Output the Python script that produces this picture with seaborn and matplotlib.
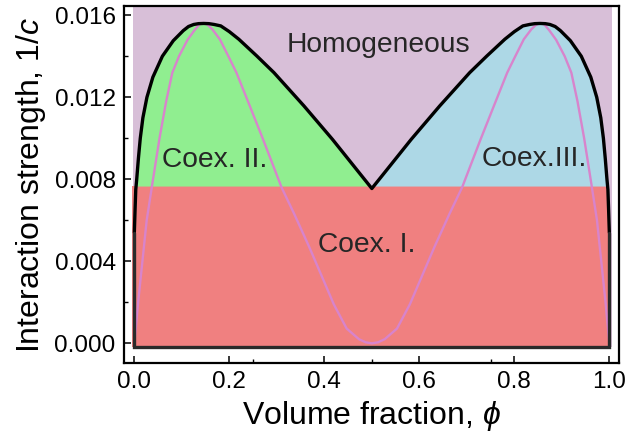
import matplotlib
matplotlib.use("Agg")
import matplotlib.pyplot as plt
from matplotlib.ticker import MultipleLocator, FormatStrFormatter
import seaborn as sns
import numpy as np

# Binodal (coexistence boundary) read along the composition axis
binodal_x = [0.000, 0.0015, 0.003, 0.005, 0.0085, 0.0125, 0.018, 0.0265, 0.039,
             0.059, 0.082, 0.103, 0.114, 0.125, 0.135, 0.146, 0.157, 0.168, 0.182,
             0.200, 0.220, 0.258, 0.294, 0.357, 0.417, 0.473, 0.500,
             0.527, 0.583, 0.643, 0.706, 0.742, 0.780, 0.800, 0.818, 0.832, 0.843,
             0.854, 0.865, 0.875, 0.886, 0.897, 0.918, 0.941, 0.961, 0.9735, 0.982,
             0.9875, 0.9915, 0.995, 0.997, 0.9985, 1.000]
binodal_y = [0.0054, 0.0065, 0.0075, 0.0080, 0.0090, 0.0100, 0.0110, 0.0120, 0.01298,
             0.0140, 0.01476, 0.01525, 0.01545, 0.01555, 0.01559, 0.0156, 0.01559,
             0.01555, 0.01548, 0.0152, 0.01483, 0.01401, 0.0132, 0.01158, 0.00995,
             0.00833, 0.00755,
             0.00833, 0.00995, 0.01158, 0.0132, 0.01401, 0.01483, 0.0152, 0.01548,
             0.01555, 0.01559, 0.0156, 0.01559, 0.01555, 0.01545, 0.01525, 0.01476,
             0.0140, 0.01298, 0.0120, 0.0110, 0.0100, 0.0090, 0.0080, 0.0075,
             0.0065, 0.0054]

# Spinodal
spinodal_x = [0.000, 0.008, 0.017, 0.026, 0.038, 0.053, 0.067, 0.080, 0.094, 0.112,
              0.126, 0.136, 0.140, 0.145, 0.150, 0.155, 0.164, 0.180, 0.198, 0.215,
              0.243, 0.271, 0.310, 0.336, 0.368, 0.398, 0.420, 0.447, 0.473, 0.487,
              0.500,
              0.513, 0.527, 0.553, 0.580, 0.602, 0.632, 0.664, 0.690, 0.729, 0.757,
              0.785, 0.802, 0.820, 0.836, 0.845, 0.850, 0.855, 0.860, 0.864, 0.874,
              0.888, 0.906, 0.920, 0.933, 0.947, 0.962, 0.974, 0.983, 0.992, 1.000]
spinodal_y = [0.0000, 0.0020, 0.0040, 0.0060, 0.0078, 0.0100, 0.0118, 0.0132, 0.0140,
              0.0148, 0.01525, 0.01553, 0.01558, 0.0156, 0.01558, 0.01552, 0.01532,
              0.01483, 0.0140, 0.0132, 0.01158, 0.00995, 0.0076, 0.00634, 0.00471,
              0.00309, 0.0019, 0.00072, 0.0002, 0.00005, 0.0000,
              0.00005, 0.0002, 0.00072, 0.0019, 0.00309, 0.00471, 0.00634, 0.0076,
              0.00995, 0.01158, 0.0132, 0.0140, 0.01483, 0.01532, 0.01552, 0.01558,
              0.0156, 0.01558, 0.01553, 0.01525, 0.0148, 0.0140, 0.0132, 0.0118,
              0.0100, 0.0078, 0.0060, 0.0040, 0.0020, 0.0000]

# Three-phase line and limits of the shaded regions
triple_y = 0.00767
floor_y = -0.0002
top_y = 0.0164
edge_x = [0.0, 1.0]
edge_top_y = 0.0054

region_labels = ["Homogeneous", "Coex. II.", "Coex.III.", "Coex. I."]
region_pos = [(0.513, 0.0142), (0.169, 0.0086), (0.842, 0.00865), (0.490, 0.00447)]

sns.set_style("ticks")
plt.rcParams["font.family"] = ["Liberation Sans", "DejaVu Sans"]
plt.rcParams["mathtext.fontset"] = "custom"
plt.rcParams["mathtext.rm"] = "Liberation Sans"
plt.rcParams["mathtext.it"] = "Liberation Sans:italic"
plt.rcParams["text.color"] = "black"
plt.rcParams["axes.labelcolor"] = "black"

fig = plt.figure(figsize=(6.28, 4.36), dpi=100)
ax = fig.add_axes([0.1975, 0.1674, 0.7882, 0.8188])

bx = np.array(binodal_x)
by = np.array(binodal_y)

# Background regions
ax.fill_between([edge_x[0] - 0.003, edge_x[1] + 0.006], floor_y, top_y,
                color="thistle", lw=0, zorder=1)
ax.fill_between([edge_x[0] - 0.004, edge_x[1]], floor_y, triple_y,
                color="lightcoral", lw=0, zorder=2)
ax.fill_between(bx, triple_y, by, where=(bx <= 0.5) & (by >= triple_y),
                interpolate=True, color="lightgreen", lw=0, zorder=2)
ax.fill_between(bx, triple_y, by, where=(bx >= 0.5) & (by >= triple_y),
                interpolate=True, color="lightblue", lw=0, zorder=2)

# Spinodal and binodal curves
sns.lineplot(x=spinodal_x, y=spinodal_y, sort=False, estimator=None,
             color="#d884cc", lw=1.7, ax=ax, zorder=3)
sns.lineplot(x=binodal_x, y=binodal_y, sort=False, estimator=None,
             color="black", lw=2.4, ax=ax, zorder=4)

# Lower outline of the coexistence region
outline_x = [edge_x[0], edge_x[0], edge_x[1], edge_x[1]]
outline_y = [edge_top_y, floor_y, floor_y, edge_top_y]
ax.plot(outline_x, outline_y, color="#2a2a2a", lw=2.4, zorder=4,
        solid_joinstyle="miter")

for txt, (tx, ty) in zip(region_labels, region_pos):
    ax.text(tx, ty, txt, ha="center", va="baseline", fontsize=20.3,
            color="#262626", zorder=5)

ax.set_xlim(-0.0217, 1.0204)
ax.set_ylim(-0.00096, 0.01645)
ax.xaxis.set_major_locator(MultipleLocator(0.2))
ax.xaxis.set_minor_locator(MultipleLocator(0.25))
ax.yaxis.set_major_locator(MultipleLocator(0.004))
ax.yaxis.set_minor_locator(MultipleLocator(0.002))
ax.xaxis.set_major_formatter(FormatStrFormatter("%.1f"))
ax.yaxis.set_major_formatter(FormatStrFormatter("%.3f"))
ax.tick_params(which="both", direction="in", top=False, right=False,
               colors="black", labelsize=17.5)
ax.tick_params(which="major", length=5, width=1.1, pad=6)
ax.tick_params(which="minor", length=3, width=1.0)
for s in ax.spines.values():
    s.set_linewidth(1.6)
    s.set_color("black")

ax.set_xlabel("Volume fraction, $\\phi$", fontsize=23, labelpad=4)
ax.set_ylabel("Interaction strength, 1/$c$", fontsize=23, labelpad=5)

fig.savefig("out.png", dpi=100)
